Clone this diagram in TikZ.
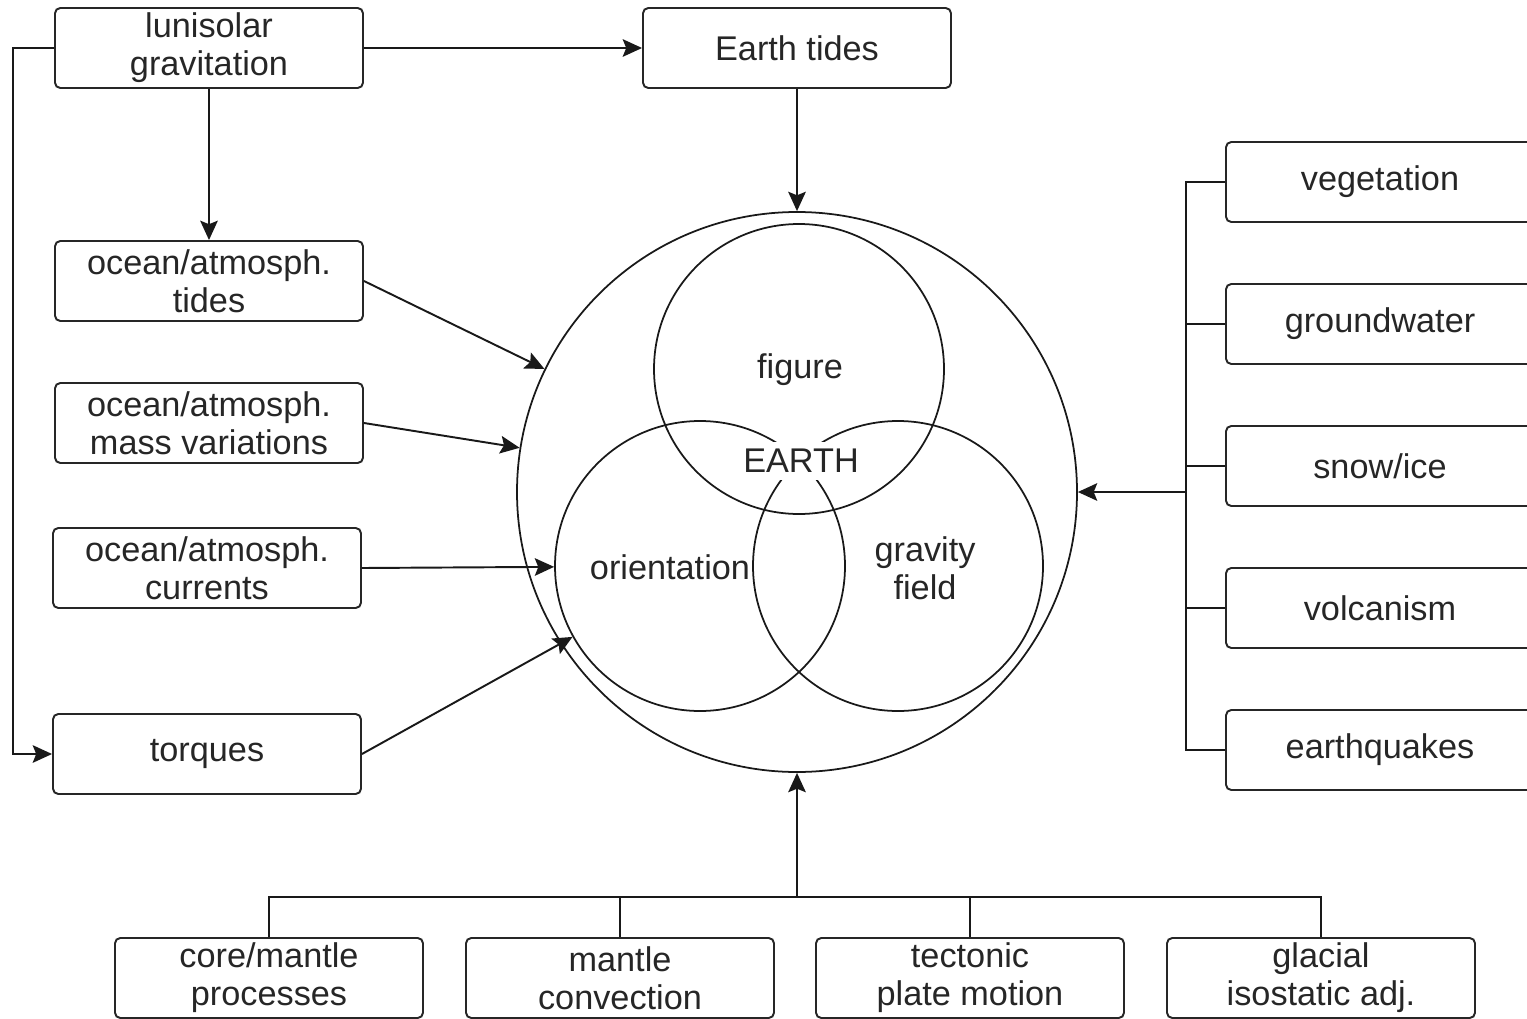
\documentclass[tikz,border=0pt]{standalone}
\usepackage{fontspec}
\setmainfont{Liberation Sans}
\usetikzlibrary{arrows.meta}

\tikzset{
	box/.style={draw=black!85, line width=1.1pt, rounded corners=3pt, minimum width=6.16cm, minimum height=1.6cm, align=center, inner sep=0pt},
	ring/.style={draw=black!90, line width=1pt, circle, inner sep=0pt},
	link/.style={line width=1.1pt, black!90},
	arr/.style={link, -{Stealth[length=11pt, width=10pt, inset=2pt]}}
}

\begin{document}
\begin{tikzpicture}[font=\fontsize{19.5}{21.5}\selectfont, text=black!85]
		\useasboundingbox (0, 0) rectangle (30.54, -20.38);

		\node[box] at (4.18, -0.96) (luni) {lunisolar\\gravitation};
		\node[box] at (15.94, -0.96) (etides) {Earth tides};

		\node[box] at (4.18, -5.62) (otides) {ocean/atmosph.\\tides};
		\node[box] at (4.18, -8.46) (omass) {ocean/atmosph.\\mass variations};
		\node[box] at (4.14, -11.36) (ocurr) {ocean/atmosph.\\currents};
		\node[box] at (4.14, -15.08) (torq) {torques};

		\node[box] at (27.6, -3.64) (veg) {vegetation};
		\node[box] at (27.6, -6.48) (ground) {groundwater};
		\node[box] at (27.6, -9.32) (snow) {snow/ice};
		\node[box] at (27.6, -12.16) (volc) {volcanism};
		\node[box] at (27.6, -15.0) (quake) {earthquakes};

		\node[box] at (5.38, -19.56) (core) {core/mantle\\processes};
		\node[box] at (12.40, -19.56) (conv) {mantle\\convection};
		\node[box] at (19.40, -19.56) (plate) {tectonic\\plate motion};
		\node[box] at (26.42, -19.56) (glac) {glacial\\isostatic adj.};

		\node[ring, minimum size=11.2cm] at (15.94, -9.84) (earth) {};
		\node[ring, minimum size=5.8cm] at (15.98, -7.38) (fig) {};
		\node[ring, minimum size=5.8cm] at (14.0, -11.32) (orient) {};
		\node[ring, minimum size=5.8cm] at (17.96, -11.32) (grav) {};

		\node at (16.0, -7.4) (tfig) {figure};
		\node[fill=white, inner sep=4pt] at (16.02, -9.22) (tearth) {EARTH};
		\node[fill=white, inner sep=0pt] at (13.4, -11.34) (torient) {orientation};
		\node[align=center] at (18.5, -11.36) (tgrav) {gravity\\field};

		% top and left side
		\draw[arr] (luni.east) -- (etides.west);
		\draw[arr] (luni.south) -- (otides.north);
		\draw[arr] (etides.south) -- (earth.north);
		\coordinate (lt) at (0.26, -0.96);
		\coordinate (lb) at (0.26, -15.08);
		\draw[arr] (luni.west) -- (lt) -- (lb) -- (torq.west);

		\draw[arr] (otides.east) -- (earth);
		\draw[arr] (omass.east) -- (earth);
		\draw[arr] (ocurr.east) -- (orient);
		\draw[arr] (torq.east) -- (orient);

		% right bus
		\coordinate (rt) at (23.72, -3.64);
		\coordinate (rb) at (23.72, -15.0);
		\coordinate (rm) at (23.72, -9.84);
		\draw[link] (veg.west) -- (rt) -- (rb) -- (quake.west);
		\draw[link] (ground.west) -- (23.72, -6.48);
		\draw[link] (snow.west) -- (23.72, -9.32);
		\draw[link] (volc.west) -- (23.72, -12.16);
		\draw[arr] (rm) -- (earth.east);

		% bottom bus
		\coordinate (bl) at (5.38, -17.94);
		\coordinate (br) at (26.42, -17.94);
		\coordinate (bm) at (15.94, -17.94);
		\draw[link] (core.north) -- (bl) -- (br) -- (glac.north);
		\draw[link] (conv.north) -- (12.40, -17.94);
		\draw[link] (plate.north) -- (19.40, -17.94);
		\draw[arr] (bm) -- (earth.south);
	\end{tikzpicture}
\end{document}
